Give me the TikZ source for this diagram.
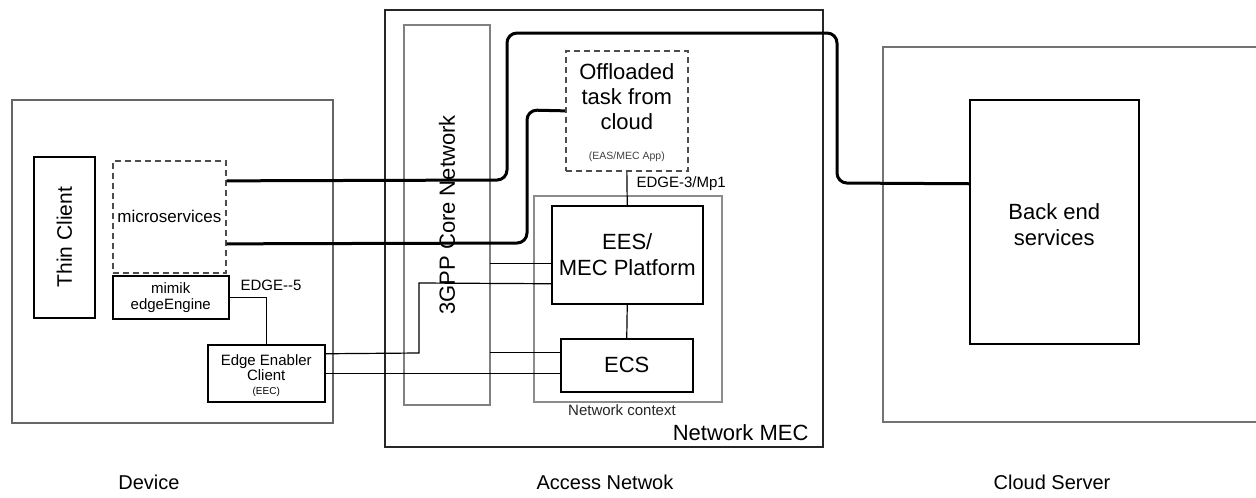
\documentclass[tikz,border=0pt]{standalone}
\usepackage{fontspec}
\setmainfont{Liberation Sans}
\usetikzlibrary{positioning}
\tikzset{
  box/.style={draw=black, line width=1.5pt, fill=white, anchor=north west, inner sep=0pt, align=center},
  dbox/.style={box, draw=black!70, line width=1.7pt, dash pattern=on 6pt off 4pt},
  grey/.style={draw=black!50, line width=1.4pt},
  wire/.style={draw=black, line width=1.2pt},
  fat/.style={draw=black, line width=3pt, rounded corners=10pt},
}
\newcommand{\boxat}[6]{% name, x0, y0, x1, y1, style
  \node[#6, minimum width=#4pt-#2pt, minimum height=#5pt-#3pt] (#1) at (#2,#3) {};}
\begin{document}
\begin{tikzpicture}[x=1pt, y=-1pt]
\useasboundingbox (0,0) rectangle (1256,498);
\fill[white] (0,0) rectangle (1256,498);

% outer regions
\draw[draw=black!60, line width=1.6pt] (12,100) rectangle (333,423);
\draw[draw=black!85, line width=1.4pt] (385,10) rectangle (823,447);
\draw[draw=black!55, line width=1.4pt] (1260,47) -- (883,47) -- (883,422) -- (1260,422);

% core network column and network context frame
\draw[grey] (404,25) rectangle (490,405);
\node[rotate=90, font=\fontsize{22}{24}\selectfont] (core) at (447,215) {3GPP Core Network};
\coordinate (coreE) at (490,215);
\draw[draw=black!45, line width=1.3pt] (534,196) rectangle (722,402);
\node[font=\fontsize{15}{17}\selectfont, text=black!85] at (622,410) {Network context};
\node[font=\fontsize{22}{24}\selectfont, anchor=east] at (812,433) {Network MEC};

% device side
\boxat{tc}{33}{156}{94}{317}{box}
\node[rotate=90, font=\fontsize{21}{24}\selectfont] at (tc.center) {Thin Client};
\boxat{ms}{112}{160}{225}{272}{dbox}
\node[font=\fontsize{17}{19}\selectfont] at (ms.center) {microservices};
\boxat{mm}{112}{275}{228}{318}{box}
\node[font=\fontsize{15}{16}\selectfont, align=center] at (mm.center) {mimik\\edgeEngine};
\boxat{eec}{207}{344}{324}{401}{box}
\node[font=\fontsize{15}{15}\selectfont, align=center] at ([yshift=-7pt]eec.north) [anchor=north] {Edge Enabler\\Client};
\node[font=\fontsize{10}{11}\selectfont] at ([yshift=11pt]eec.south) {(EEC)};
\node[font=\fontsize{15}{16}\selectfont, anchor=west] at (237,285) {EDGE-{}-5};

% access network side
\boxat{off}{565}{50}{687}{170}{dbox}
\node[font=\fontsize{22}{25}\selectfont, align=center, anchor=north] at ([yshift=-10pt]off.north) {Offloaded\\task from\\cloud};
\node[font=\fontsize{10.5}{11}\selectfont, text=black!75] at ([yshift=15pt]off.south) {(EAS/MEC App)};
\boxat{ees}{551}{205}{702}{303}{box}
\node[font=\fontsize{22}{26}\selectfont, align=center] at (ees.center) {EES/\\MEC Platform};
\boxat{ecs}{560}{338}{692}{391}{box}
\node[font=\fontsize{22}{24}\selectfont] at (ecs.center) {ECS};
\node[font=\fontsize{15}{16}\selectfont, anchor=west] at (633,184) {EDGE-3/Mp1};

% cloud side
\boxat{be}{969}{99}{1138}{343}{box}
\node[font=\fontsize{22}{26}\selectfont, align=center] at ([yshift=-3pt]be.center) {Back end\\services};

% region captions
\node[font=\fontsize{20}{22}\selectfont] at (149,482) {Device};
\node[font=\fontsize{20}{22}\selectfont] at (605,482) {Access Netwok};
\node[font=\fontsize{20}{22}\selectfont] at (1052,482) {Cloud Server};

% control-plane wires
\draw[wire] (off.south) -- (ees.north);
\draw[wire] (ees.south) -- (ecs.north);
\draw[wire] (mm.east) -| (eec.north);
\draw[wire] ([yshift=-9pt]ees.west) -- ([yshift=-9pt]ees.west -| coreE);
\draw[wire] ([yshift=12.5pt]ecs.west) -- ([yshift=12.5pt]ecs.west -| coreE);
\draw[wire] ([yshift=19.5pt]eec.east) -- (419,353) -- (419,283) -- ([yshift=-29pt]ees.west);
\draw[wire] (eec.east) -- (eec.east -| ecs.west);

% data-plane paths
\draw[fat] ([yshift=36pt]ms.east) -- (507,180) -- (507,33) -- (837,33) -- (837,183) -- ([yshift=38pt]be.west);
\draw[fat] ([yshift=-27pt]ms.east) -- (527,243) -- (527,110) -- (off.west);
\end{tikzpicture}
\end{document}
